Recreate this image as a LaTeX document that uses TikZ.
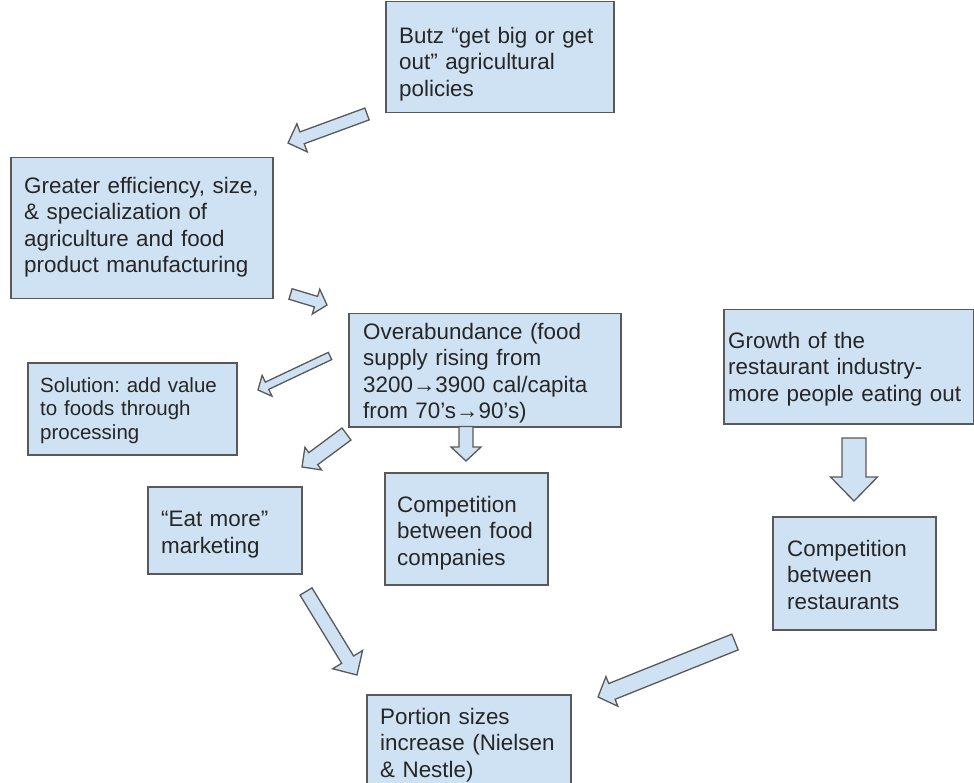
\documentclass[tikz,border=0pt]{standalone}
\usepackage{fontspec}
\setmainfont{Liberation Sans}
\usetikzlibrary{calc}
\frenchspacing
\definecolor{boxfill}{HTML}{CFE2F3}
\definecolor{boxline}{HTML}{595959}
\tikzset{
  box/.style={draw=boxline, fill=boxfill, line width=1.5pt, rectangle, inner sep=0pt, anchor=north west},
  boxtext/.style={anchor=north west, inner sep=0pt, align=left, text width=260pt, text=black!85,
    font=\fontsize{22.4}{26.5}\selectfont},
  smalltext/.style={boxtext, font=\fontsize{20.5}{23.5}\selectfont},
  arrowshape/.style={draw=boxline, fill=boxfill, line width=1.3pt, line join=miter},
}
% #1 tail, #2 tip, #3 shaft half width, #4 head half width, #5 head length
\newcommand\blockarr[5]{%
  \coordinate (bah) at ($(#2)!#5!(#1)$);
  \draw[arrowshape] ($(#1)!#3!90:(#2)$) -- ($(bah)!#3!90:(#2)$) -- ($(bah)!#4!90:(#2)$) -- (#2)
    -- ($(bah)!#4!-90:(#2)$) -- ($(bah)!#3!-90:(#2)$) -- ($(#1)!#3!-90:(#2)$) -- cycle;
}
\begin{document}
\begin{tikzpicture}[x=1pt,y=-1pt]
\useasboundingbox (0,0) rectangle (974,783);
\clip (0,0) rectangle (974,783);

% boxes
\node[box, minimum width=228pt, minimum height=111pt] (butz) at (385,1) {};
\node[boxtext] (butzT) at (399,27) {\frenchspacing Butz “get big or get\\out" agricultural\\policies};

\node[box, minimum width=262pt, minimum height=141pt] (greater) at (10,157) {};
\node[boxtext] (greaterT) at (24,177) {Greater efficiency, size,\\\& specialization of\\agriculture and food\\product manufacturing};

\node[box, minimum width=272pt, minimum height=113pt] (over) at (348,313) {};
\node[boxtext] (overT) at (363,323) {Overabundance (food\\supply rising from\\3200→3900 cal/capita\\from 70’s→90’s)};

\node[box, minimum width=209pt, minimum height=92pt] (sol) at (27,362) {};
\node[smalltext] (solT) at (40,377) {\frenchspacing Solution: add value\\to foods through\\processing};

\node[box, minimum width=250pt, minimum height=114pt] (growth) at (723,309) {};
\node[boxtext] (growthT) at (728,332) {Growth of the\\restaurant industry-\\more people eating out};

\node[box, minimum width=154pt, minimum height=87pt] (eat) at (147,486) {};
\node[boxtext] (eatT) at (161,511) {“Eat more”\\marketing};

\node[box, minimum width=163pt, minimum height=112pt] (compf) at (384,472) {};
\node[boxtext] (compfT) at (397,496) {Competition\\between food\\companies};

\node[box, minimum width=163pt, minimum height=113pt] (compr) at (772,516) {};
\node[boxtext] (comprT) at (787,540) {Competition\\between\\restaurants};

\node[box, minimum width=204pt, minimum height=110pt] (portion) at (366,694) {};
\node[boxtext] (portionT) at (380,708) {Portion sizes\\increase (Nielsen\\\& Nestle)};

% block arrows
\coordinate (a1s) at (367,114);   \coordinate (a1e) at (288,143);
\coordinate (a2s) at (290.5,294); \coordinate (a2e) at (327,305);
\coordinate (a3s) at (330,356);   \coordinate (a3e) at (258,390);
\coordinate (a4s) at (466,426.5); \coordinate (a4e) at (466,461);
\coordinate (a5s) at (346.5,434); \coordinate (a5e) at (302,467);
\coordinate (a6s) at (306,591.5); \coordinate (a6e) at (357,675);
\coordinate (a7s) at (735,642);   \coordinate (a7e) at (598,697);
\coordinate (a8s) at (854,438);   \coordinate (a8e) at (854,501);

\blockarr{a1s}{a1e}{6.3pt}{15pt}{15pt}
\blockarr{a2s}{a2e}{5.5pt}{13pt}{11.5pt}
\blockarr{a3s}{a3e}{4pt}{11.5pt}{10pt}
\blockarr{a4s}{a4e}{7pt}{15pt}{14pt}
\blockarr{a5s}{a5e}{7.5pt}{14pt}{14pt}
\blockarr{a6s}{a6e}{7pt}{17.5pt}{18pt}
\blockarr{a7s}{a7e}{8.5pt}{16pt}{15pt}
\blockarr{a8s}{a8e}{12pt}{23.5pt}{24pt}
\end{tikzpicture}
\end{document}
